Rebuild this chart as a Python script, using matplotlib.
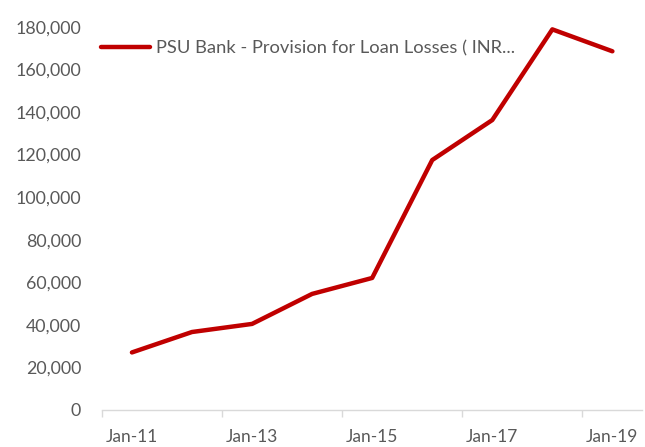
import matplotlib
matplotlib.use("Agg")
import matplotlib.pyplot as plt
from matplotlib.ticker import FuncFormatter, FixedLocator

# Provision for loan losses, PSU banks (INR crore), yearly
years = ["Jan-11", "Jan-12", "Jan-13", "Jan-14", "Jan-15", "Jan-16", "Jan-17", "Jan-18", "Jan-19"]
provisions = [27000, 36600, 40400, 54500, 62000, 117400, 136200, 178800, 168500]
series_label = "PSU Bank - Provision for Loan Losses ( INR..."

text_color = "#595959"
axis_color = "#D9D9D9"
line_color = "#C00000"

plt.rcParams["font.family"] = ["Lato", "DejaVu Sans"]

fig = plt.figure(figsize=(6.45, 4.47), dpi=100)
ax = fig.add_axes([0.158, 0.083, 0.838, 0.857])

x = list(range(len(years)))
ax.plot(x, provisions, color=line_color, linewidth=3.2, solid_joinstyle="round",
        solid_capstyle="round", label=series_label)

ax.set_xlim(-0.5, len(years) - 0.5)
ax.set_ylim(0, 180000)
ax.set_yticks(range(0, 180001, 20000))
ax.yaxis.set_major_formatter(FuncFormatter(lambda v, p: f"{int(v):,}"))

# tick marks between category pairs, labels on every other category
ax.xaxis.set_major_locator(FixedLocator([i - 0.5 for i in range(0, len(years), 2)]))
ax.xaxis.set_minor_locator(FixedLocator(x[::2]))
ax.xaxis.set_major_formatter(FuncFormatter(lambda v, p: ""))
ax.xaxis.set_minor_formatter(FuncFormatter(lambda v, p: years[int(round(v))]))
ax.tick_params(axis="x", which="major", length=5, width=1, color=axis_color, direction="out")
ax.tick_params(axis="x", which="minor", length=0, pad=14, labelsize=12.5, labelcolor=text_color)
ax.tick_params(axis="y", length=0, pad=15, labelsize=12.8, labelcolor=text_color)

for side in ("top", "right", "left"):
    ax.spines[side].set_visible(False)
ax.spines["bottom"].set_color(axis_color)
ax.spines["bottom"].set_linewidth(1)

leg = ax.legend(loc="upper left", bbox_to_anchor=(-0.033, 1.008), frameon=False,
                fontsize=13.2, handlelength=2.7, handletextpad=0.3, labelcolor=text_color)

fig.savefig("out.png", dpi=100, facecolor="white")
